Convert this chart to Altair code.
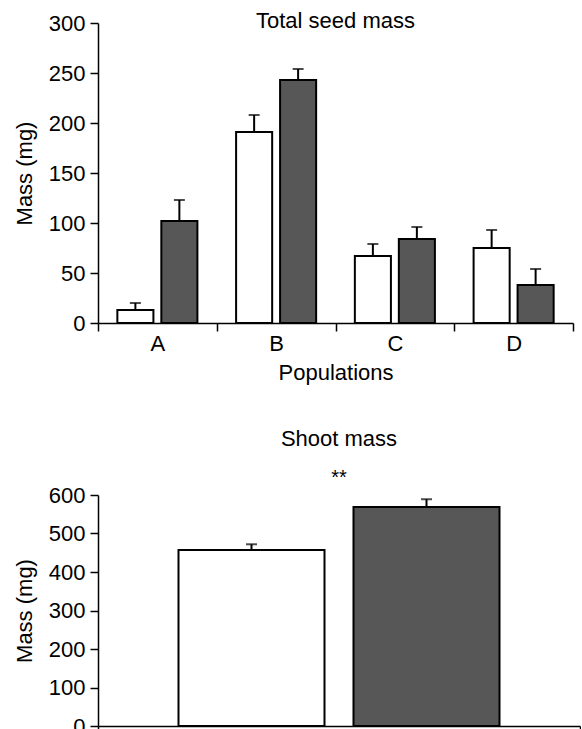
import altair as alt
import pandas as pd

populations = ["A", "B", "C", "D"]
groups = ["Control", "Treated"]
seed_control = [13, 191, 67, 75]
seed_control_se = [7, 17, 12, 18]
seed_treated = [102, 243, 84, 38]
seed_treated_se = [21, 11, 12, 16]
shoot_mean = [457, 569]
shoot_se = [15, 20]
seed_ticks = [0, 50, 100, 150, 200, 250, 300]
shoot_ticks = [0, 100, 200, 300, 400, 500, 600]

FONT = "Liberation Sans"
FS = 22

seed = pd.DataFrame({
    "population": populations * 2,
    "group": [groups[0]] * len(populations) + [groups[1]] * len(populations),
    "mass": seed_control + seed_treated,
    "se": seed_control_se + seed_treated_se,
})
shoot = pd.DataFrame({
    "panel": ["all"] * len(groups),
    "group": groups,
    "mass": shoot_mean,
    "se": shoot_se,
})

fill = alt.Fill("group:N", scale=alt.Scale(domain=groups, range=["#ffffff", "#575757"]), legend=None)


def panel(df, xfield, xtitle, xlabels, ydomain, yticks, w, h, pin, pout, title):
    x = alt.X(xfield, title=xtitle, sort=None,
              scale=alt.Scale(paddingInner=0, paddingOuter=0),
              axis=alt.Axis(labelAngle=0, tickBand="extent", tickSize=8, labels=xlabels,
                            labelPadding=2, titlePadding=8))
    xo = alt.XOffset("group:N", sort=groups,
                     scale=alt.Scale(domain=groups, paddingInner=pin, paddingOuter=pout))
    ysc = alt.Scale(domain=ydomain, nice=False)
    yax = alt.Axis(values=yticks, tickSize=8, labelPadding=5, titlePadding=12, labelOverlap=False)
    base = alt.Chart(df).encode(x=x, xOffset=xo).transform_calculate(top="datum.mass + datum.se")
    bars = base.mark_bar(stroke="black", strokeWidth=2).encode(
        y=alt.Y("mass:Q", title="Mass (mg)", scale=ysc, axis=yax), fill=fill)
    err = base.mark_rule(color="black", strokeWidth=2).encode(
        y=alt.Y("mass:Q", title="Mass (mg)", scale=ysc, axis=yax), y2="top:Q")
    cap = base.mark_tick(orient="horizontal", size=11, thickness=2, color="black").encode(
        y=alt.Y("top:Q", title="Mass (mg)", scale=ysc, axis=yax))
    return alt.layer(bars, err, cap).properties(width=w, height=h, title=title)


top = panel(seed, "population:N", "Populations", True, [0, 300], seed_ticks, 475, 300, 0.18, 0.44,
            alt.TitleParams("Total seed mass", frame="group", offset=-21, fontSize=FS,
                            fontWeight="normal", font=FONT, color="black"))
bottom = panel(shoot, "panel:N", None, False, [0, 600], shoot_ticks, 482, 231,
               0.1657, 0.46,
               alt.TitleParams("Shoot mass", subtitle="**", frame="group", offset=-5, fontSize=FS,
                               fontWeight="normal", font=FONT, color="black", subtitleFont=FONT,
                               subtitleFontSize=20, subtitleColor="black", subtitlePadding=17))

chart = alt.vconcat(top, bottom, spacing=172, bounds="flush").resolve_scale(
    x="independent", xOffset="independent", y="independent"
).configure_view(stroke=None).configure_axis(
    domainColor="black", domainWidth=1.5, tickColor="black", tickWidth=1.5, grid=False,
    labelColor="black", titleColor="black", labelFont=FONT, titleFont=FONT,
    labelFontSize=FS, titleFontSize=FS, titleFontWeight="normal",
).properties(padding={"left": 13, "top": 10, "right": 0, "bottom": 0})

chart.save("out.html", embed_options={"renderer": "svg", "actions": False})
